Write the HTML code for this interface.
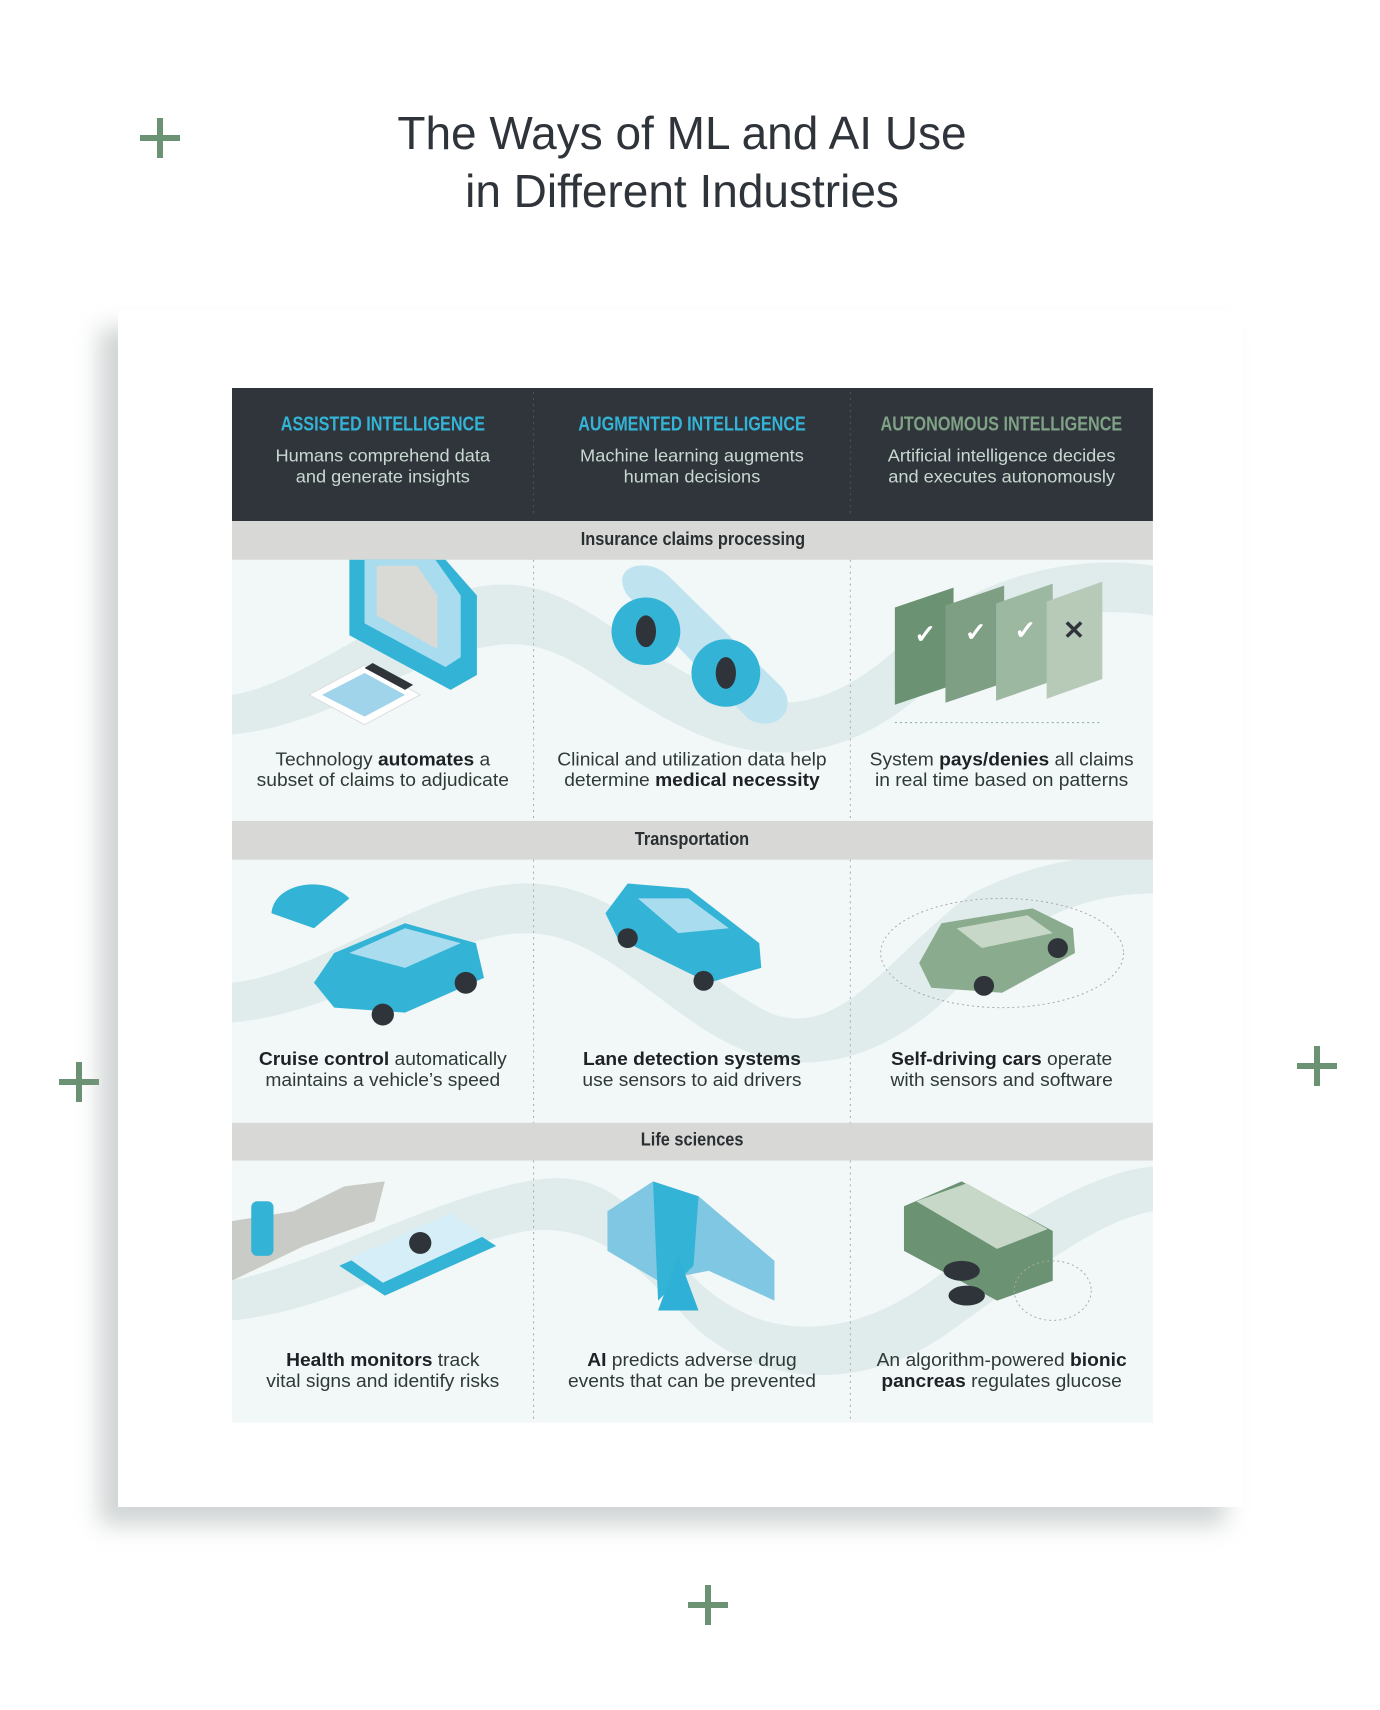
<!DOCTYPE html>
<html><head><meta charset="utf-8"><style>
*{margin:0;padding:0;box-sizing:border-box}
body{width:1380px;height:1710px;background:#fff;position:relative;overflow:hidden;font-family:"Liberation Sans",sans-serif}
.abs{position:absolute}
.plus{position:absolute;width:40px;height:40px}
.plus:before,.plus:after{content:"";position:absolute;background:#6b9272}
.plus:before{left:17px;top:0;width:6px;height:40px}
.plus:after{left:0;top:17px;width:40px;height:6px}
.title{left:0;width:1364px;top:104px;text-align:center;font-size:46px;line-height:58px;color:#2f343b}
.card{left:118px;top:310px;width:1125px;height:1197px;background:#fff;box-shadow:-18px 18px 22px rgba(150,160,160,.45)}
.wrap{position:absolute;left:0;top:0;width:1380px;height:1710px;transform-origin:229px 391px;transform:translate(3px,-3px) scale(1.012,0.993)}
.hdr{font-weight:bold;font-size:20px;white-space:nowrap}
.hdr span{display:inline-block;transform:scaleX(.8)}
.sub{font-size:18px;line-height:21px;color:#c8d9d0}
.band{font-weight:bold;font-size:19px;color:#2a2f33;text-align:center}
.band span{display:inline-block;transform:scaleX(.85)}
.cap{font-size:19px;line-height:21px;color:#2f3a36;text-align:center;white-space:nowrap}
.cap b{color:#1e2226}
</style></head><body>
<div class="plus" style="left:140px;top:118px"></div>
<div class="plus" style="left:59px;top:1062px"></div>
<div class="plus" style="left:1297px;top:1046px"></div>
<div class="plus" style="left:688px;top:1585px"></div>
<div class="abs title">The Ways of ML and AI Use<br>in Different Industries</div>
<div class="abs card"></div>

<div class="wrap">
<svg class="abs" style="left:0;top:0" width="1380" height="1710">
<rect x="229" y="391" width="910" height="134" fill="#30343b"/>
<line x1="527" y1="395" x2="527" y2="520" stroke="#555" stroke-dasharray="2 4"/>
<line x1="840" y1="395" x2="840" y2="520" stroke="#555" stroke-dasharray="2 4"/>
<g>
<rect x="229" y="564" width="910" height="263" fill="#f2f7f7"/>
<rect x="229" y="866" width="910" height="265" fill="#f2f7f7"/>
<rect x="229" y="1169" width="910" height="264" fill="#f2f7f7"/>
<path d="M229 700 C300 690 400 600 480 590 C560 580 600 640 700 690 C780 730 840 700 900 640 C980 570 1080 560 1139 570 L1139 620 C1080 610 990 620 920 690 C860 750 780 780 690 740 C600 700 560 640 490 650 C410 660 330 730 229 740Z" fill="#dfeceb"/>
<path d="M229 990 C320 980 420 890 520 890 C620 890 680 980 760 1020 C830 1050 880 960 960 900 C1040 860 1100 860 1139 865 L1139 900 C1080 900 1020 920 960 980 C900 1050 820 1090 740 1060 C660 1030 600 940 520 940 C440 940 340 1020 229 1030Z" fill="#dfeceb"/>
<path d="M229 1290 C320 1270 420 1210 520 1190 C620 1170 640 1250 700 1300 C760 1350 840 1350 920 1290 C1000 1230 1080 1180 1139 1175 L1139 1220 C1080 1230 1010 1290 940 1340 C860 1400 760 1400 690 1340 C640 1290 600 1230 520 1240 C420 1260 330 1320 229 1330Z" fill="#dfeceb"/>
</g>
<rect x="229" y="525" width="910" height="39" fill="#d8d9d6"/>
<rect x="229" y="827" width="910" height="39" fill="#d8d9d6"/>
<rect x="229" y="1131" width="910" height="38" fill="#d8d9d6"/>
<g stroke="#aaa" stroke-dasharray="2 4">
<line x1="527" y1="564" x2="527" y2="827"/><line x1="840" y1="564" x2="840" y2="827"/>
<line x1="527" y1="866" x2="527" y2="1131"/><line x1="840" y1="866" x2="840" y2="1131"/>
<line x1="527" y1="1169" x2="527" y2="1433"/><line x1="840" y1="1169" x2="840" y2="1433"/>
</g>
<g>
<path d="M345 564 L345 640 L445 695 L471 680 L471 600 L440 564Z" fill="#33b4d6"/>
<path d="M360 564 L360 628 L440 672 L455 662 L455 600 L430 564Z" fill="#a9dcee"/>
<path d="M372 570 L372 620 L432 654 L432 600 L412 570Z" fill="#d9d9d6"/>
<path d="M305 700 L360 670 L415 700 L360 730Z" fill="#fff" stroke="#ddd"/>
<path d="M318 700 L360 678 L400 700 L360 722Z" fill="#9fd4ea"/>
<path d="M360 673 L368 668 L408 690 L400 695Z" fill="#2f343b"/>
</g>
<g>
<path d="M620 600 C600 570 640 560 660 580 L770 690 C790 710 770 740 740 725Z" fill="#bfe3ef"/>
<circle cx="638" cy="636" r="34" fill="#33b4d6"/><ellipse cx="638" cy="636" rx="10" ry="16" fill="#2f343b"/>
<circle cx="717" cy="678" r="34" fill="#33b4d6"/><ellipse cx="717" cy="678" rx="10" ry="16" fill="#2f343b"/>
</g>
<g>
<path d="M884 612 L942 592 L942 690 L884 710Z" fill="#6b9272"/>
<path d="M934 610 L992 590 L992 688 L934 708Z" fill="#7f9f85"/>
<path d="M984 608 L1040 588 L1040 686 L984 706Z" fill="#9db8a1"/>
<path d="M1034 606 L1089 586 L1089 684 L1034 704Z" fill="#b7c9b7"/>
<text x="903" y="648" fill="#fff" font-size="26" font-weight="bold">✓</text>
<text x="953" y="646" fill="#fff" font-size="26" font-weight="bold">✓</text>
<text x="1002" y="644" fill="#fff" font-size="26" font-weight="bold">✓</text>
<text x="1050" y="644" fill="#2f343b" font-size="26" font-weight="bold">✕</text>
<line x1="884" y1="728" x2="1086" y2="728" stroke="#8a9" stroke-dasharray="2 3"/>
</g>
<g>
<path d="M268 920 C270 890 320 880 345 905 L310 935Z" fill="#33b4d6"/>
<path d="M310 990 L330 960 L400 930 L470 950 L478 985 L400 1020 L330 1015Z" fill="#33b4d6"/>
<path d="M345 960 L400 935 L455 950 L400 975Z" fill="#a9dcee"/>
<circle cx="378" cy="1022" r="11" fill="#2f343b"/><circle cx="460" cy="990" r="11" fill="#2f343b"/>
</g>
<g>
<path d="M598 920 L620 890 L680 895 L750 950 L752 975 L700 990 L610 945Z" fill="#33b4d6"/>
<path d="M630 905 L680 905 L720 935 L670 940Z" fill="#a9dcee"/>
<circle cx="620" cy="945" r="10" fill="#2f343b"/><circle cx="695" cy="988" r="10" fill="#2f343b"/>
</g>
<g>
<ellipse cx="990" cy="960" rx="120" ry="55" fill="none" stroke="#aaa" stroke-dasharray="2 3"/>
<path d="M908 970 L930 930 L1020 915 L1060 935 L1062 960 L990 1000 L920 995Z" fill="#8aab8e"/>
<path d="M945 935 L1015 922 L1040 940 L970 955Z" fill="#c7d8c8"/>
<circle cx="972" cy="993" r="10" fill="#2f343b"/><circle cx="1045" cy="955" r="10" fill="#2f343b"/>
</g>
<g>
<path d="M229 1230 L290 1220 L340 1195 L380 1190 L370 1230 L300 1255 L229 1290Z" fill="#c9ccc6"/>
<rect x="248" y="1210" width="22" height="55" rx="6" fill="#33b4d6"/>
<path d="M335 1275 L445 1225 L490 1255 L380 1305Z" fill="#33b4d6"/>
<path d="M345 1268 L445 1222 L478 1245 L378 1292Z" fill="#d6eef7"/>
<circle cx="415" cy="1252" r="11" fill="#2f343b"/>
</g>
<g>
<path d="M600 1220 L630 1200 L645 1190 L660 1215 L690 1205 L765 1270 L765 1310 L700 1280 L650 1290 L600 1260Z" fill="#7fc7e2"/>
<path d="M645 1190 L650 1310 L685 1275 L690 1205Z" fill="#33b4d6"/>
<path d="M670 1265 L690 1320 L650 1320Z" fill="#2fb0d6"/>
</g>
<g>
<path d="M893 1215 L950 1190 L1040 1240 L1040 1290 L985 1310 L893 1260Z" fill="#6b9272"/>
<path d="M905 1210 L955 1192 L1035 1238 L985 1258Z" fill="#c7d8c8"/>
<ellipse cx="950" cy="1280" rx="18" ry="10" fill="#2f343b"/>
<ellipse cx="955" cy="1305" rx="18" ry="10" fill="#2f343b"/>
<ellipse cx="1040" cy="1300" rx="38" ry="30" fill="none" stroke="#aaa" stroke-dasharray="2 3"/>
</g>
</svg>

<div class="abs hdr" style="left:229px;width:298px;top:417px;text-align:center;color:#33b4d6"><span>ASSISTED INTELLIGENCE</span></div>
<div class="abs hdr" style="left:527px;width:313px;top:417px;text-align:center;color:#33b4d6"><span>AUGMENTED INTELLIGENCE</span></div>
<div class="abs hdr" style="left:840px;width:299px;top:417px;text-align:center;color:#7fa286"><span>AUTONOMOUS INTELLIGENCE</span></div>
<div class="abs sub" style="left:229px;width:298px;top:449px;text-align:center">Humans comprehend data<br>and generate insights</div>
<div class="abs sub" style="left:527px;width:313px;top:449px;text-align:center">Machine learning augments<br>human decisions</div>
<div class="abs sub" style="left:840px;width:299px;top:449px;text-align:center">Artificial intelligence decides<br>and executes autonomously</div>

<div class="abs band" style="left:229px;width:910px;top:533px"><span>Insurance claims processing</span></div>
<div class="abs band" style="left:229px;width:910px;top:835px"><span>Transportation</span></div>
<div class="abs band" style="left:229px;width:910px;top:1138px"><span>Life sciences</span></div>

<div class="abs cap" style="left:229px;width:298px;top:755px">Technology <b>automates</b> a<br>subset of claims to adjudicate</div>
<div class="abs cap" style="left:527px;width:313px;top:755px">Clinical and utilization data help<br>determine <b>medical necessity</b></div>
<div class="abs cap" style="left:840px;width:299px;top:755px">System <b>pays/denies</b> all claims<br>in real time based on patterns</div>

<div class="abs cap" style="left:229px;width:298px;top:1057px"><b>Cruise control</b> automatically<br>maintains a vehicle’s speed</div>
<div class="abs cap" style="left:527px;width:313px;top:1057px"><b>Lane detection systems</b><br>use sensors to aid drivers</div>
<div class="abs cap" style="left:840px;width:299px;top:1057px"><b>Self-driving cars</b> operate<br>with sensors and software</div>

<div class="abs cap" style="left:229px;width:298px;top:1360px"><b>Health monitors</b> track<br>vital signs and identify risks</div>
<div class="abs cap" style="left:527px;width:313px;top:1360px"><b>AI</b> predicts adverse drug<br>events that can be prevented</div>
<div class="abs cap" style="left:840px;width:299px;top:1360px">An algorithm-powered <b>bionic<br>pancreas</b> regulates glucose</div>
</div>
</body></html>
